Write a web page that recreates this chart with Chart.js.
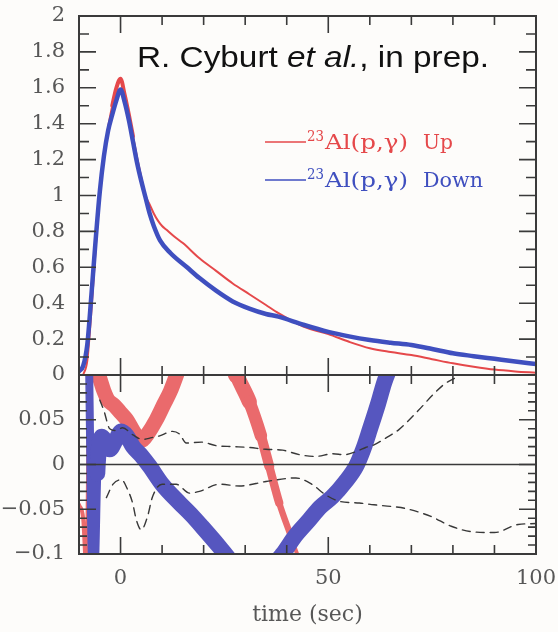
<!DOCTYPE html>
<html lang="en">
<head>
  <meta charset="UTF-8" />
  <title>Light curve ratio</title>
  <script src="https://cdn.jsdelivr.net/npm/chart.js"></script>
  <style>
    html, body { margin: 0; padding: 0; background: #fdfcfa; }
    body { width: 558px; height: 632px; position: relative; overflow: hidden; }
    #topBox { position: absolute; left: 0; top: 0; }
    #botBox { position: absolute; left: 0; top: 360px; }
  </style>
</head>
<body>
  <div id="topBox"><canvas id="fluxChart" width="558" height="400"></canvas></div>
  <div id="botBox"><canvas id="diffChart" width="558" height="272"></canvas></div>

<script>
  // light curves, upper panel
  const upTime = [-9, -8, -7, -6, -5, -4, -3, -2, -1, 0, 1, 2, 3, 4, 5, 6, 7, 8, 9, 10, 11, 13, 15, 19, 23, 27, 31, 35, 38, 44, 50, 55, 60, 65, 70, 75, 80, 85, 90, 95, 100];
  const upFlux = [0.0, 0.08, 0.36, 0.7, 1.0, 1.22, 1.38, 1.5, 1.6, 1.65, 1.56, 1.45, 1.33, 1.21, 1.1, 1.0, 0.95, 0.9, 0.86, 0.83, 0.81, 0.77, 0.735, 0.65, 0.58, 0.51, 0.45, 0.39, 0.345, 0.27, 0.228, 0.185, 0.149, 0.128, 0.111, 0.088, 0.065, 0.046, 0.03, 0.02, 0.013];

  const downTime = [-10, -9, -8, -7, -6, -5, -4, -3, -2, -1, 0, 1, 2, 3, 4, 5, 6, 7, 8, 9.5, 12, 16, 19, 23, 27, 31, 35, 38, 44, 50, 55, 60, 65, 70, 75, 80, 85, 90, 95, 100];
  const downFlux = [0.02, 0.05, 0.17, 0.45, 0.75, 1.02, 1.22, 1.36, 1.45, 1.53, 1.59, 1.52, 1.42, 1.3, 1.18, 1.08, 0.99, 0.9, 0.83, 0.75, 0.68, 0.6, 0.54, 0.47, 0.41, 0.37, 0.34, 0.325, 0.28, 0.24, 0.215, 0.195, 0.18, 0.167, 0.145, 0.121, 0.105, 0.09, 0.075, 0.061];

  // relative differences, lower panel
  const upDiffTime = [-10, -9, -8.2, -7.4, -6.5, -5.3, -4, -3, -1.5, 0, 1.5, 3, 4.2, 5.2, 6.5, 8.6, 10.5, 12, 13.4, 15, 21, 25, 28, 31, 33.8, 35.8, 38.2, 41, 42.5, 44];
  const upDiff = [-0.045, -0.06, -0.12, 0.12, 0.11, 0.1, 0.082, 0.072, 0.066, 0.058, 0.05, 0.038, 0.03, 0.027, 0.034, 0.05, 0.068, 0.082, 0.099, 0.12, 0.18, 0.14, 0.1, 0.07, 0.032, -0.002, -0.043, -0.08, -0.1, -0.12];

  const downDiffTime = [-7.6, -6.8, -6.2, -5.6, -4.5, -3.5, -2.6, -1.2, 0.2, 1.5, 3, 5, 7, 10, 14.2, 17, 19.7, 23.8, 27, 31, 35, 39, 42, 45.4, 48, 51, 54, 56.7, 58.5, 60, 62, 63.5, 65];
  const downDiff = [0.12, -0.11, -0.11, -0.01, 0.031, 0.025, 0.017, 0.027, 0.037, 0.032, 0.02, 0.01, -0.002, -0.022, -0.043, -0.056, -0.07, -0.092, -0.11, -0.125, -0.12, -0.1, -0.08, -0.062, -0.048, -0.036, -0.02, -0.002, 0.018, 0.039, 0.068, 0.092, 0.11];

  // dashed comparison curves
  const cmpHiTime = [-5, -4, -2.6, -1, 0.5, 3, 5.3, 7.5, 9.4, 12.5, 14.2, 15.8, 19.5, 23, 27, 31, 35, 39, 43, 47, 51, 54, 57, 59, 61, 64, 67, 71.6, 75, 78, 81, 83];
  const cmpHi = [0.072, 0.06, 0.04, 0.038, 0.041, 0.033, 0.028, 0.03, 0.032, 0.037, 0.034, 0.024, 0.025, 0.021, 0.02, 0.019, 0.017, 0.016, 0.011, 0.009, 0.012, 0.011, 0.015, 0.019, 0.022, 0.03, 0.039, 0.06, 0.077, 0.09, 0.098, 0.105];

  const cmpLoTime = [-3.4, -1.8, 0.2, 1.7, 2.9, 3.8, 5, 6.5, 7.7, 10, 13.4, 16.6, 19, 23.8, 28.6, 35, 42.2, 46, 49.4, 52.6, 57.5, 61, 65.4, 68.4, 74.7, 79.6, 84.4, 90, 95.7, 100];
  const cmpLo = [-0.037, -0.022, -0.017, -0.028, -0.043, -0.062, -0.073, -0.058, -0.036, -0.022, -0.022, -0.032, -0.03, -0.022, -0.024, -0.019, -0.015, -0.022, -0.034, -0.041, -0.043, -0.045, -0.047, -0.049, -0.058, -0.069, -0.075, -0.076, -0.067, -0.066];

  const yTopTicks = { min: 0, max: 2, step: 0.2, minor: 0.1 };
  const yBotTicks = { min: -0.1, max: 0.1, step: 0.05, minor: 0.01 };
  const xTicks = { min: -10, max: 100, major: 50, minor: 10, labels: [0, 50, 100] };

  const RED = '#e5484a';
  const BLUE = '#3f4fbf';
  const AXIS = '#3a3a3a';
  const LABEL = '#575757';
  const tickFont = { family: 'DejaVu Serif', size: 21 };

  const pts = (xs, ys) => xs.map((t, i) => ({ x: t, y: ys[i] }));

  // box with inward ticks on all four sides
  const frame = {
    id: 'frame',
    afterDatasetsDraw(chart, args, o) {
      const { ctx, chartArea: a, scales: { x, y } } = chart;
      ctx.save();
      ctx.strokeStyle = AXIS;
      if (o.zero) {
        const py = y.getPixelForValue(0);
        ctx.lineWidth = 1.6;
        ctx.beginPath(); ctx.moveTo(a.left, py); ctx.lineTo(a.right, py); ctx.stroke();
      }
      const isMult = (v, m) => Math.abs(v / m - Math.round(v / m)) < 1e-6;
      ctx.lineWidth = 1.6;
      ctx.beginPath();
      let n = Math.round((x.max - x.min) / o.xMinor);
      for (let i = 0; i <= n; i++) {
        const v = x.min + i * o.xMinor;
        const len = isMult(v, o.xMajor) ? 17 : 9;
        const px = x.getPixelForValue(v);
        ctx.moveTo(px, a.top); ctx.lineTo(px, a.top + len);
        ctx.moveTo(px, a.bottom); ctx.lineTo(px, a.bottom - len);
      }
      n = Math.round((y.max - y.min) / o.yMinor);
      for (let i = 0; i <= n; i++) {
        const v = y.min + i * o.yMinor;
        const len = isMult(v, o.yMajor) ? 17 : o.yMinorLen;
        const py = y.getPixelForValue(v);
        ctx.moveTo(a.left, py); ctx.lineTo(a.left + len, py);
        ctx.moveTo(a.right, py); ctx.lineTo(a.right - len, py);
      }
      ctx.stroke();
      ctx.lineWidth = 2;
      ctx.strokeRect(a.left, a.top, a.right - a.left, a.bottom - a.top);
      ctx.restore();
    }
  };

  // text squeezed or stretched to a printed width
  function fitText(ctx, str, font, x, y, width) {
    ctx.font = font;
    const w = ctx.measureText(str).width;
    ctx.save();
    ctx.translate(x, y);
    ctx.scale(width / w, 1);
    ctx.fillText(str, 0, 0);
    ctx.restore();
  }

  // caption and key inside the upper panel
  const notes = {
    id: 'notes',
    afterDraw(chart) {
      const ctx = chart.ctx;
      ctx.save();
      const parts = [
        ['R. Cyburt ', 'normal 30px "Liberation Sans"'],
        ['et al.', 'italic 30px "Liberation Sans"'],
        [', in prep.', 'normal 30px "Liberation Sans"']
      ];
      let w = 0;
      parts.forEach(p => { ctx.font = p[1]; w += ctx.measureText(p[0]).width; });
      const sx = 352 / w;
      ctx.translate(137, 67);
      ctx.scale(sx, 1);
      ctx.fillStyle = '#111';
      ctx.textBaseline = 'alphabetic';
      let cx = 0;
      parts.forEach(p => { ctx.font = p[1]; ctx.fillText(p[0], cx, 0); cx += ctx.measureText(p[0]).width; });
      ctx.setTransform(1, 0, 0, 1, 0, 0);

      const key = [
        { color: RED, y: 142, name: 'Up', nameWidth: 30 },
        { color: BLUE, y: 180, name: 'Down', nameWidth: 60 }
      ];
      key.forEach(k => {
        ctx.strokeStyle = k.color;
        ctx.lineWidth = 1.6;
        ctx.beginPath(); ctx.moveTo(265, k.y); ctx.lineTo(306, k.y); ctx.stroke();
        ctx.fillStyle = k.color;
        fitText(ctx, '23', '14px "DejaVu Serif"', 307, k.y - 1, 17);
        fitText(ctx, 'Al(p,γ)', '21px "DejaVu Serif"', 325, k.y + 7, 83);
        fitText(ctx, k.name, '21px "DejaVu Serif"', 423, k.y + 7, k.nameWidth);
      });
      ctx.restore();
    }
  };

  // fixed axis widths, and no extra room kept for end labels
  const yFit = s => { s.width = 79; s.paddingTop = 0; s.paddingBottom = 0; };
  const fmt = v => String(+v.toFixed(2));

  new Chart(document.getElementById('fluxChart'), {
    type: 'line',
    data: {
      datasets: [
        { label: 'Down', data: pts(downTime, downFlux), borderColor: BLUE, borderWidth: 4.5 },
        { label: 'Up', data: pts(upTime, upFlux), borderColor: RED, borderWidth: 2,
          segment: { borderWidth: c => (c.p0.parsed.x >= -2 && c.p0.parsed.x < 3) ? 4 : 2 } }
      ]
    },
    options: {
      responsive: false,
      animation: false,
      layout: { padding: { top: 16, right: 22, bottom: 25, left: 0 } },
      elements: { point: { radius: 0 }, line: { cubicInterpolationMode: 'monotone', borderCapStyle: 'round', borderJoinStyle: 'round' } },
      plugins: {
        legend: { display: false },
        tooltip: { enabled: false },
        frame: { xMinor: xTicks.minor, xMajor: xTicks.major, yMinor: yTopTicks.minor, yMajor: yTopTicks.step, yMinorLen: 10 }
      },
      scales: {
        x: { type: 'linear', min: xTicks.min, max: xTicks.max, display: false },
        y: {
          min: yTopTicks.min, max: yTopTicks.max,
          afterFit: yFit,
          grid: { display: false, drawTicks: false },
          border: { display: false },
          ticks: { stepSize: yTopTicks.step, autoSkip: false, padding: 14, color: LABEL, font: tickFont, callback: fmt }
        }
      }
    },
    plugins: [frame, notes]
  });

  // red band narrows on its way down after t ~ 28 s
  const upBand = c => {
    const t = c.p0.parsed.x;
    if (t < -7) return 4;
    if (t < 24) return 15;
    return Math.max(3, 15 - (t - 28) * 0.85);
  };

  new Chart(document.getElementById('diffChart'), {
    type: 'line',
    data: {
      datasets: [
        { label: 'hi', data: pts(cmpHiTime, cmpHi), borderColor: '#383838', borderWidth: 1.4, borderDash: [8, 6] },
        { label: 'lo', data: pts(cmpLoTime, cmpLo), borderColor: '#383838', borderWidth: 1.4, borderDash: [8, 6] },
        { label: 'Down', data: pts(downDiffTime, downDiff), borderColor: '#5656bf', borderWidth: 16,
          segment: { borderWidth: c => c.p0.parsed.x < -5.6 ? 8 : 16 } },
        { label: 'Up', data: pts(upDiffTime, upDiff), borderColor: '#ea6a6c', borderWidth: 15,
          segment: { borderWidth: upBand } }
      ]
    },
    options: {
      responsive: false,
      animation: false,
      layout: { padding: { top: 15, right: 22, bottom: 0, left: 0 } },
      elements: { point: { radius: 0 }, line: { cubicInterpolationMode: 'monotone', borderCapStyle: 'round', borderJoinStyle: 'round' } },
      plugins: {
        legend: { display: false },
        tooltip: { enabled: false },
        frame: { zero: true, xMinor: xTicks.minor, xMajor: xTicks.major, yMinor: yBotTicks.minor, yMajor: yBotTicks.step, yMinorLen: 8 }
      },
      scales: {
        x: {
          type: 'linear', min: xTicks.min, max: xTicks.max,
          afterFit: s => { s.height = 78; s.paddingLeft = 0; s.paddingRight = 0; },
          grid: { display: false, drawTicks: false },
          border: { display: false },
          ticks: {
            stepSize: xTicks.minor, autoSkip: false, maxRotation: 0, padding: 12,
            color: LABEL, font: tickFont,
            callback: v => xTicks.labels.includes(v) ? String(v) : ''
          },
          title: { display: true, text: 'time (sec)', color: LABEL, font: { family: 'DejaVu Serif', size: 22 }, padding: { top: 6 } }
        },
        y: {
          min: yBotTicks.min, max: yBotTicks.max,
          afterFit: yFit,
          grid: { display: false, drawTicks: false },
          border: { display: false },
          ticks: {
            stepSize: yBotTicks.step, autoSkip: false, padding: 14, color: LABEL, font: tickFont,
            callback: v => v > 0.09 ? '' : Math.abs(v) < 1e-9 ? '0' : v < 0 ? '\u2212' + Math.abs(v) : String(v)
          }
        }
      }
    },
    plugins: [frame]
  });
</script>
</body>
</html>
